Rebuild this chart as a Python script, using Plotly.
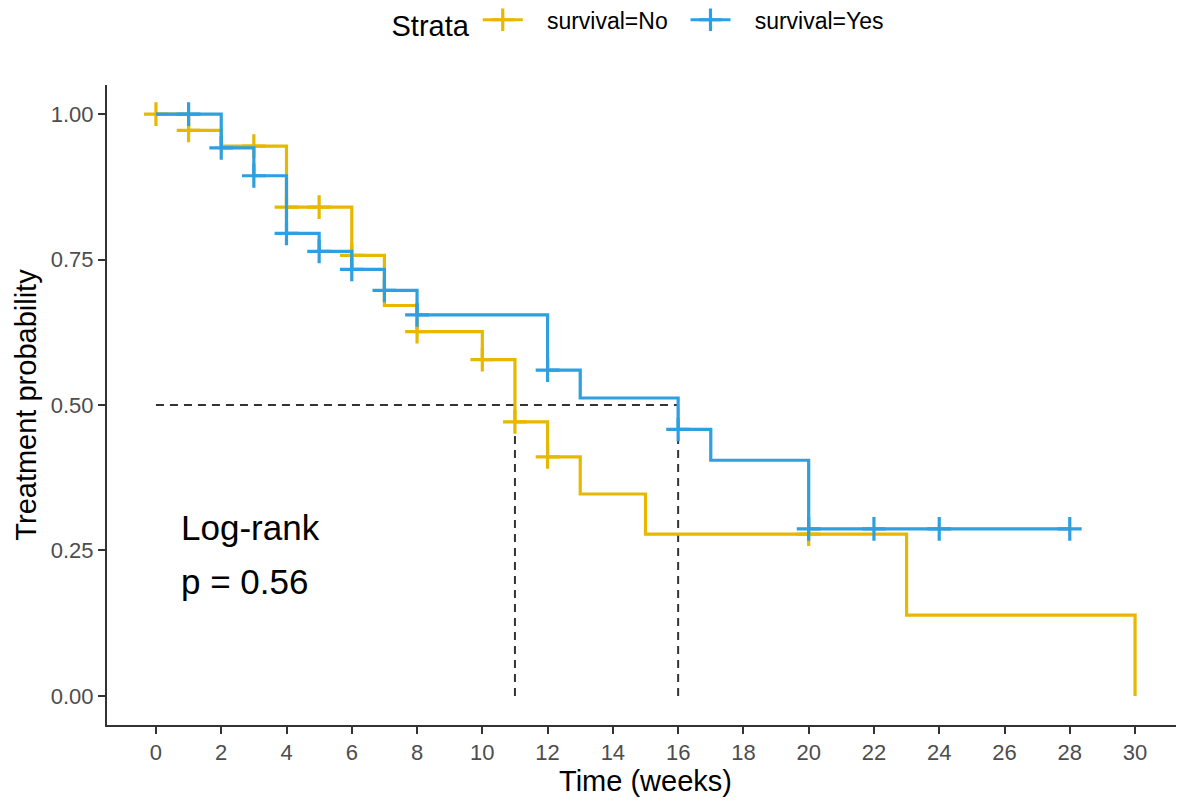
import numpy as np
import plotly.graph_objects as go

# ---- data ----
no_times = [0, 1, 2, 4, 6, 7, 8, 10, 11, 12, 13, 15, 23, 30]
no_surv = [1.0, 0.972, 0.945, 0.840, 0.757, 0.671, 0.626, 0.578, 0.471, 0.411, 0.347, 0.278, 0.139, 0.0]
no_censor = [0, 1, 3, 4, 5, 6, 8, 10, 11, 12, 20]

yes_times = [0, 2, 3, 4, 5, 6, 7, 8, 12, 13, 16, 17, 20, 28]
yes_surv = [1.0, 0.942, 0.894, 0.795, 0.764, 0.733, 0.697, 0.655, 0.560, 0.512, 0.458, 0.405, 0.287, 0.287]
yes_censor = [1, 2, 3, 4, 5, 6, 7, 8, 12, 16, 20, 22, 24, 28]

median_no = 11
median_yes = 16
median_level = 0.5
pval_lines = ["Log-rank", "p = 0.56"]
pval_x = 0.7
pval_y = [0.290, 0.196]
x_ticks = list(range(0, 31, 2))
y_ticks = [0, 0.25, 0.5, 0.75, 1.0]
y_tick_labels = ["0.00", "0.25", "0.50", "0.75", "1.00"]

COL_NO = "#E7B800"
COL_YES = "#2E9FDF"
FONT = "Liberation Sans, Arial, sans-serif"


def surv_at(times, surv, t):
    idx = np.searchsorted(np.array(times), t, side="right") - 1
    return [surv[i] for i in idx]


fig = go.Figure()

# median dashed lines
dash_style = dict(color="#333333", width=2, dash="8px,6px")
fig.add_trace(go.Scatter(x=[0, median_yes], y=[median_level, median_level], mode="lines",
                         line=dash_style, showlegend=False, hoverinfo="skip"))
for m in (median_no, median_yes):
    fig.add_trace(go.Scatter(x=[m, m], y=[0, median_level], mode="lines",
                             line=dash_style, showlegend=False, hoverinfo="skip"))

for name, times, surv, cens, col in [
    ("survival=No", no_times, no_surv, no_censor, COL_NO),
    ("survival=Yes", yes_times, yes_surv, yes_censor, COL_YES),
]:
    fig.add_trace(go.Scatter(x=times, y=surv, mode="lines", line=dict(color=col, width=3.2, shape="hv"),
                             showlegend=False, name=name))
    fig.add_trace(go.Scatter(x=cens, y=surv_at(times, surv, cens), mode="markers",
                             marker=dict(symbol="cross-thin", size=17, line=dict(color=col, width=3.2)),
                             showlegend=False, name=name))
    # legend key
    fig.add_trace(go.Scatter(x=[None], y=[None], mode="lines+markers", name="   " + name + "  ",
                             line=dict(color=col, width=3.2),
                             marker=dict(symbol="cross-thin", size=17, line=dict(color=col, width=3.2))))

for txt, yy in zip(pval_lines, pval_y):
    fig.add_annotation(x=pval_x, y=yy, xref="x", yref="y", text=txt, showarrow=False,
                       xanchor="left", yanchor="middle", align="left",
                       font=dict(family=FONT, size=35, color="black"))

# page body has an 8px margin; shrink the figure so the plot lands where the reference has it
fig.update_layout(
    width=1176, height=795,
    plot_bgcolor="white", paper_bgcolor="white",
    margin=dict(l=99, r=0, t=77, b=78, autoexpand=False),
    font=dict(family=FONT),
    legend=dict(orientation="h", x=0.5, xanchor="center", y=1.098, yanchor="middle",
                title=dict(text="Strata", font=dict(size=29, color="black")),
                font=dict(size=23, color="black"), itemwidth=40),
    xaxis=dict(range=[-1.5, 31.5], tickvals=x_ticks, showgrid=False, zeroline=False, automargin=False,
               showline=True, linecolor="#333333", linewidth=2, ticks="outside", ticklen=7,
               tickcolor="#333333", tickwidth=1.5,
               tickfont=dict(size=22, color="#4D4D4D"),
               title=dict(text="Time (weeks)", font=dict(size=29, color="black"), standoff=4)),
    yaxis=dict(range=[-0.05, 1.05], tickvals=y_ticks, ticktext=y_tick_labels, showgrid=False, zeroline=False,
               automargin=False,
               showline=True, linecolor="#333333", linewidth=2, ticks="outside", ticklen=7,
               tickcolor="#333333", tickwidth=1.5,
               tickfont=dict(size=22, color="#4D4D4D"),
               title=dict(text="Treatment probability", font=dict(size=29, color="black"), standoff=6)),
)

fig.write_html("out.html")
